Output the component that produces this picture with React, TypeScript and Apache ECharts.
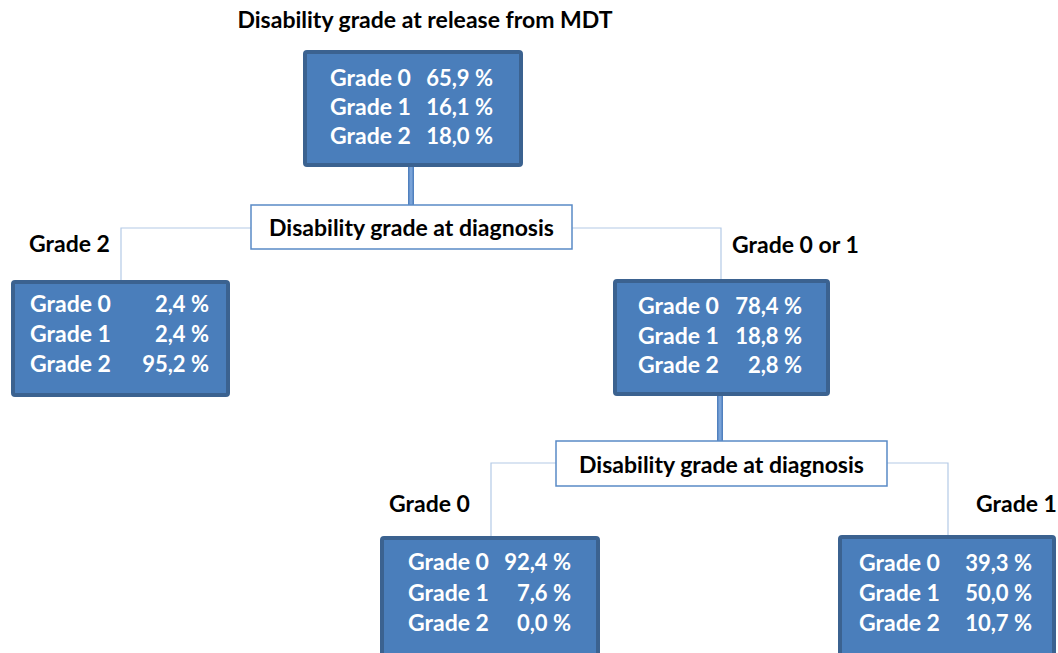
import React, { useEffect, useRef } from "react";
import * as echarts from "echarts";

const titleText = "Disability grade at release from MDT";
const splitText = "Disability grade at diagnosis";
const gradeLabels = ["Grade 0", "Grade 1", "Grade 2"];
const branchLabels = ["Grade 2", "Grade 0 or 1", "Grade 0", "Grade 1"];
const rootValues = [65.9, 16.1, 18.0];
const grade2Values = [2.4, 2.4, 95.2];
const grade01Values = [78.4, 18.8, 2.8];
const grade0Values = [92.4, 7.6, 0.0];
const grade1Values = [39.3, 50.0, 10.7];

const FONT = "Lato, 'Open Sans', sans-serif";
const FILL = "#4a7ebb";
const BORDER = "#3b6290";
const THIN = "#b4cae6";

const fmt = (v: number) => v.toFixed(1).replace(".", ",") + " %";

function nodeBox(
  x: number, y: number, w: number, h: number,
  labelX: number, valueRight: number, rows: number[], values: number[]
): any[] {
  const els: any[] = [
    {
      type: "rect",
      shape: { x: x + 2, y: y + 2, width: w - 4, height: h - 4, r: 2 },
      style: { fill: FILL, stroke: BORDER, lineWidth: 4 },
    },
  ];
  values.forEach((v, i) => {
    els.push({
      type: "text",
      x: labelX, y: rows[i],
      style: { text: gradeLabels[i], fill: "#ffffff", font: `bold 23px ${FONT}`, align: "left", verticalAlign: "middle" },
    });
    els.push({
      type: "text",
      x: valueRight, y: rows[i],
      style: { text: fmt(v), fill: "#ffffff", font: `bold 22px ${FONT}`, align: "right", verticalAlign: "middle" },
    });
  });
  return els;
}

function splitBox(x: number, y: number, w: number, h: number): any[] {
  return [
    {
      type: "rect",
      shape: { x, y, width: w, height: h },
      style: { fill: "#ffffff", stroke: "#5a8ac6", lineWidth: 1.5 },
    },
    {
      type: "text",
      x: x + w / 2, y: y + h / 2,
      style: { text: splitText, fill: "#000000", font: `bold 23px ${FONT}`, align: "center", verticalAlign: "middle" },
    },
  ];
}

function thick(x: number, y1: number, y2: number): any {
  return {
    type: "rect",
    shape: { x: x - 3, y: y1, width: 6, height: y2 - y1 },
    style: {
      fill: new echarts.graphic.LinearGradient(0, 0, 1, 0, [
        { offset: 0, color: "#4678b8" },
        { offset: 0.5, color: "#84acdf" },
        { offset: 1, color: "#4678b8" },
      ]),
    },
  };
}

function thin(points: number[][]): any {
  return {
    type: "polyline",
    shape: { points },
    style: { stroke: THIN, lineWidth: 1.2, fill: null },
  };
}

function branchLabel(text: string, x: number, y: number): any {
  return {
    type: "text",
    x, y,
    style: { text, fill: "#000000", font: `bold 23px ${FONT}`, align: "left", verticalAlign: "middle" },
  };
}

export default function App() {
  const ref = useRef<HTMLDivElement>(null);
  useEffect(() => {
    if (!ref.current) return;
    const chart = echarts.init(ref.current, undefined, { renderer: "svg" });
    const elements: any[] = [
      {
        type: "text",
        x: 425, y: 19,
        style: { text: titleText, fill: "#000000", font: `bold 23px ${FONT}`, align: "center", verticalAlign: "middle" },
      },
      // thin connectors
      thin([[251, 228], [121, 228], [121, 280]]),
      thin([[572, 228], [721, 228], [721, 280]]),
      thin([[556, 463], [491, 463], [491, 537]]),
      thin([[887, 463], [948, 463], [948, 536]]),
      // thick connectors
      thick(411, 165, 206),
      thick(720, 394, 442),
      ...splitBox(251, 205, 321, 44),
      ...splitBox(556, 441, 331, 45),
      ...nodeBox(303, 50, 220, 117, 330, 493, [77, 106, 135], rootValues),
      ...nodeBox(11, 280, 219, 117, 30, 209, [303, 333, 363], grade2Values),
      ...nodeBox(613, 279, 217, 117, 638, 802, [305, 335, 364], grade01Values),
      ...nodeBox(380, 536, 220, 125, 408, 571, [561, 592, 622], grade0Values),
      ...nodeBox(838, 535, 218, 125, 859, 1032, [562, 592, 622], grade1Values),
      branchLabel(branchLabels[0], 29, 243),
      branchLabel(branchLabels[1], 732, 244),
      branchLabel(branchLabels[2], 389, 503),
      branchLabel(branchLabels[3], 976, 503),
    ];
    chart.setOption({
      animation: false,
      backgroundColor: "#ffffff",
      graphic: { elements },
    });
    return () => chart.dispose();
  }, []);
  return (
    <div
      ref={ref}
      style={{ position: "fixed", left: 0, top: 0, width: 1058, height: 653 }}
    />
  );
}
